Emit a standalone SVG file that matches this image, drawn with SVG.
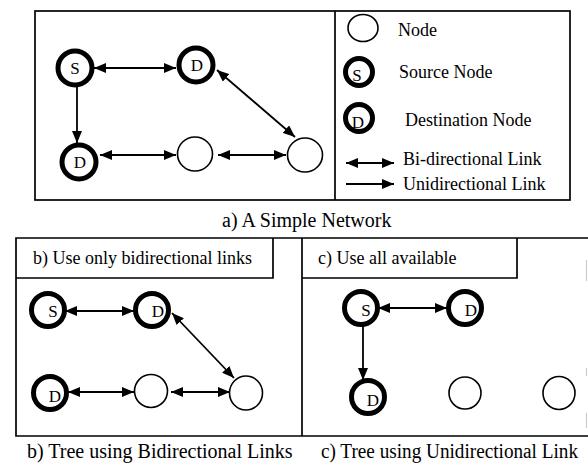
<svg xmlns="http://www.w3.org/2000/svg" width="588" height="467" viewBox="0 0 588 467">
<defs>
<marker id="ah" viewBox="0 0 12 10" refX="12" refY="5" markerWidth="12" markerHeight="10" markerUnits="userSpaceOnUse" orient="auto-start-reverse">
<path d="M0,0 L12,5 L0,10 z" fill="#000"/>
</marker>
</defs>
<style>
.box{fill:none;stroke:#000;stroke-width:1.7}
.thin{fill:#fff;stroke:#000;stroke-width:1.6}
.thick{fill:#fff;stroke:#000;stroke-width:5}
.lnk{fill:none;stroke:#000;stroke-width:1.8}
.bi{marker-start:url(#ah);marker-end:url(#ah)}
.uni{marker-end:url(#ah)}
.lbl{font-family:"Liberation Serif","Times New Roman",serif;font-size:17px;fill:#000}
.leg{font-family:"Liberation Serif","Times New Roman",serif;font-size:18px;fill:#000}
.cap{font-family:"Liberation Serif","Times New Roman",serif;font-size:20px;fill:#000}
</style>
<rect width="588" height="467" fill="#fff"/>

<g id="frames">
<rect class="box" x="35" y="11" width="535" height="189"/>
<line class="box" x1="335" y1="11" x2="335" y2="200"/>
<path class="box" d="M588,238 H16 V436 H588"/>
<line class="box" x1="302" y1="238" x2="302" y2="436"/>
<path class="box" d="M16,278 H273 V238"/>
<path class="box" d="M302,278 H517 V238"/>
<line x1="586.5" y1="260" x2="586.5" y2="281" stroke="#ccc" stroke-width="1.2"/>
<line x1="586.5" y1="368" x2="586.5" y2="376" stroke="#ccc" stroke-width="1.2"/>
<line x1="586.5" y1="413" x2="586.5" y2="428" stroke="#ccc" stroke-width="1.2"/>
</g>

<g id="connectors">
<line class="lnk bi" x1="94" y1="68" x2="176" y2="68"/>
<line class="lnk bi" x1="217" y1="70" x2="295" y2="137"/>
<line class="lnk uni" x1="77" y1="86" x2="77" y2="143"/>
<line class="lnk bi" x1="100" y1="155" x2="176" y2="155"/>
<line class="lnk bi" x1="218" y1="155" x2="286" y2="155"/>
<line class="lnk bi" x1="346" y1="163" x2="394" y2="163"/>
<line class="lnk uni" x1="346" y1="184" x2="394" y2="184"/>
<line class="lnk bi" x1="65" y1="311" x2="134" y2="311"/>
<line class="lnk bi" x1="172" y1="313" x2="234" y2="378"/>
<line class="lnk bi" x1="68" y1="392" x2="134" y2="392"/>
<line class="lnk bi" x1="171" y1="392" x2="230" y2="392"/>
<line class="lnk bi" x1="378" y1="308" x2="447" y2="308"/>
<line class="lnk uni" x1="363" y1="325" x2="363" y2="380"/>
</g>

<g id="a-S"><circle class="thick" cx="75" cy="68" r="17"/><text class="lbl" x="75" y="74" text-anchor="middle">S</text></g>
<g id="a-D1"><circle class="thick" cx="196" cy="65" r="17"/><text class="lbl" x="197" y="71" text-anchor="middle">D</text></g>
<g id="a-D2"><circle class="thick" cx="79" cy="162" r="17"/><text class="lbl" x="80" y="168" text-anchor="middle">D</text></g>
<g id="a-N1"><ellipse class="thin" cx="195" cy="154" rx="17.5" ry="17"/></g>
<g id="a-N2"><ellipse class="thin" cx="305" cy="155" rx="17.5" ry="17"/></g>

<g id="legend-node"><ellipse class="thin" cx="363" cy="28" rx="15" ry="13.5"/><text class="leg" x="398" y="36">Node</text></g>
<g id="legend-source"><circle class="thick" cx="359" cy="72" r="13.5"/><text class="lbl" x="357" y="81" text-anchor="middle" font-size="14">S</text><text class="leg" x="399" y="78">Source Node</text></g>
<g id="legend-dest"><circle class="thick" cx="359" cy="118" r="13.5"/><text class="lbl" x="358" y="128" text-anchor="middle" font-size="14">D</text><text class="leg" x="405" y="126">Destination Node</text></g>
<g id="legend-bi"><text class="leg" x="403" y="165">Bi-directional Link</text></g>
<g id="legend-uni"><text class="leg" x="403" y="190">Unidirectional Link</text></g>

<g id="caption-a"><text class="cap" x="222" y="227">a) A Simple Network</text></g>

<g id="b-header"><text class="leg" x="33" y="264">b) Use only bidirectional links</text></g>
<g id="b-S"><circle class="thick" cx="48" cy="310" r="16.5"/><text class="lbl" x="53" y="317" text-anchor="middle">S</text></g>
<g id="b-D1"><circle class="thick" cx="152" cy="310" r="16.5"/><text class="lbl" x="158" y="317" text-anchor="middle">D</text></g>
<g id="b-D2"><circle class="thick" cx="50" cy="393" r="16.5"/><text class="lbl" x="55" y="402" text-anchor="middle">D</text></g>
<g id="b-N1"><ellipse class="thin" cx="151" cy="391" rx="16.5" ry="16.5"/></g>
<g id="b-N2"><ellipse class="thin" cx="246" cy="393" rx="16.5" ry="17"/></g>
<g id="caption-b"><text class="cap" x="27" y="458">b) Tree using Bidirectional Links</text></g>

<g id="c-header"><text class="leg" x="318" y="264">c) Use all available</text></g>
<g id="c-S"><circle class="thick" cx="361" cy="308" r="16.5"/><text class="lbl" x="366" y="316" text-anchor="middle">S</text></g>
<g id="c-D1"><circle class="thick" cx="465" cy="308" r="16.5"/><text class="lbl" x="471" y="316" text-anchor="middle">D</text></g>
<g id="c-D2"><circle class="thick" cx="368" cy="397" r="16.5"/><text class="lbl" x="373" y="406" text-anchor="middle">D</text></g>
<g id="c-N1"><ellipse class="thin" cx="465" cy="393" rx="16" ry="16"/></g>
<g id="c-N2"><ellipse class="thin" cx="559" cy="393" rx="16" ry="16.5"/></g>
<g id="caption-c"><text class="cap" x="321" y="458" textLength="257" lengthAdjust="spacingAndGlyphs">c) Tree using Unidirectional Link</text></g>
</svg>
